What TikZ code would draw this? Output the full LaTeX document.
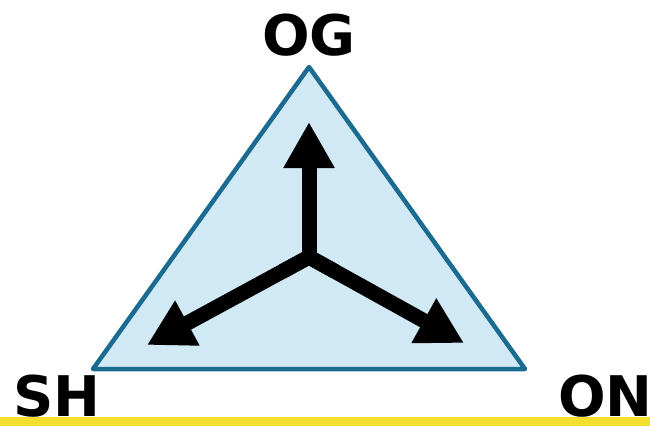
\documentclass[tikz,border=0pt]{standalone}
\usepackage{fontspec}
\setmainfont{DejaVu Sans}
\usetikzlibrary{arrows.meta,calc}
\definecolor{triFill}{HTML}{D1E9F5}
\definecolor{triEdge}{HTML}{1B6A8F}
\definecolor{goldLine}{HTML}{F4DF2C}
\tikzset{
  lbl/.style={font=\fontsize{56}{60}\selectfont\bfseries, inner sep=0pt, text=black},
  bigarrow/.style={line width=15pt, line cap=butt, line join=miter, draw=black,
    -{Triangle[width=48pt,length=46pt]}},
  tri/.style={fill=triFill, draw=triEdge, line width=4.5pt, line join=round}
}
\begin{document}
\begin{tikzpicture}[x=1pt,y=-1pt]
\useasboundingbox (0,0) rectangle (650,426);
\fill[goldLine] (0,417) rectangle (650,426);
\coordinate (top) at (309,67);
\coordinate (bl) at (93,369);
\coordinate (br) at (525,369);
\draw[tri] (top) -- (bl) -- (br) -- cycle;
\coordinate (c) at (309,257);
\coordinate (tu) at (309,122);
\coordinate (tl) at (147,345);
\coordinate (tr) at (464,343);
\draw[line width=15pt, line join=miter, line cap=butt] ($(c)!30pt!(tl)$) -- (c) -- ($(c)!30pt!(tr)$);
\draw[bigarrow] (c) -- (tu);
\draw[bigarrow] (c) -- (tl);
\draw[bigarrow] (c) -- (tr);
\node[lbl, anchor=base] (og) at (309,55) {OG};
\node[lbl, anchor=base west] (sh) at (13,416) {SH};
\node[lbl, anchor=base west] (on) at (558,416) {ON};
\end{tikzpicture}
\end{document}
